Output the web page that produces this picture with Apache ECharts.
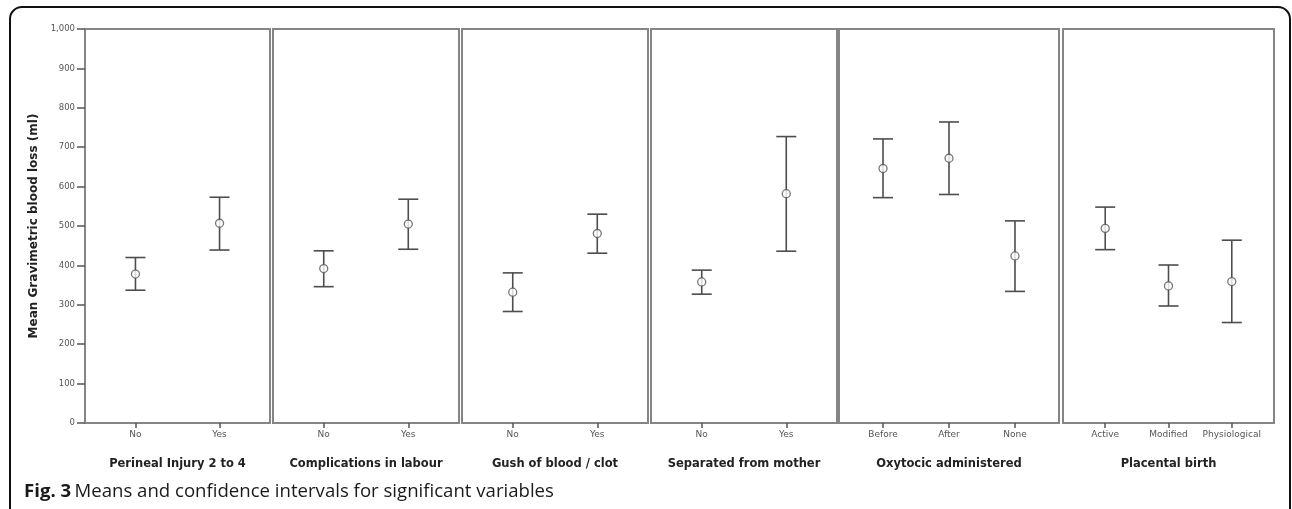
<!DOCTYPE html>
<html>
<head>
<meta charset="utf-8">
<script src="https://cdn.jsdelivr.net/npm/echarts@6/dist/echarts.min.js"></script>
<style>
  html, body { margin: 0; padding: 0; background: #fff; }
  #box1 { width: 1292px; height: 509px; }
</style>
</head>
<body>
<div id="box1"></div>
<script>
var myChart = echarts.init(document.getElementById('box1'))

// panel titles and categories
const panelTitles = ['Perineal Injury 2 to 4', 'Complications in labour', 'Gush of blood / clot',
    'Separated from mother', 'Oxytocic administered', 'Placental birth'];
const panelCats = [
    ['No', 'Yes'],
    ['No', 'Yes'],
    ['No', 'Yes'],
    ['No', 'Yes'],
    ['Before', 'After', 'None'],
    ['Active', 'Modified', 'Physiological']
];
// mean blood loss and 95% CI bounds (ml)
const means = [[378, 507], [392, 505], [332, 481], [358, 582], [646, 672, 424], [494, 348, 359]];
const lowers = [[337, 439], [346, 441], [283, 431], [327, 436], [572, 580, 334], [440, 297, 255]];
const uppers = [[420, 573], [437, 568], [381, 530], [388, 727], [721, 764, 513], [548, 401, 464]];

// panel boxes (left, width)
const boxes = [[85, 185], [273, 186], [462, 186], [651, 186], [839, 220], [1063, 211]];

let grid = [], xAxis = [], yAxis = [], series = [];
boxes.forEach(function (b, i) {
    let n = panelCats[i].length;
    let pad = n === 2 ? 0.6 : 0.667;
    grid.push({
        left: b[0], width: b[1], top: 29, bottom: 86,
        show: true, borderColor: '#858585', borderWidth: 2, backgroundColor: '#fff'
    });
    let idx = panelCats[i].map(function (c, k) { return k; });
    xAxis.push({
        type: 'value', gridIndex: i, min: -pad, max: n - 1 + pad,
        name: panelTitles[i], nameLocation: 'middle', nameGap: 35,
        nameTextStyle: { fontFamily: 'DejaVu Sans', fontWeight: 'bold', fontSize: 11.5, color: '#222' },
        axisLine: { show: false, onZero: false },
        splitLine: { show: false },
        axisTick: { show: true, inside: false, length: 5, customValues: idx, lineStyle: { color: '#555', width: 1.5 } },
        axisLabel: {
            customValues: idx, margin: 7, fontSize: 9, color: '#555', fontFamily: 'DejaVu Sans',
            formatter: function (v) { return panelCats[i][Math.round(v)]; }
        }
    });
    yAxis.push({
        type: 'value', gridIndex: i, min: 0, max: 1000, interval: 100,
        name: i === 0 ? 'Mean Gravimetric blood loss (ml)' : '',
        nameLocation: 'middle', nameGap: 45,
        nameTextStyle: { fontFamily: 'DejaVu Sans', fontWeight: 'bold', fontSize: 12, color: '#222' },
        axisLine: { show: false, onZero: false },
        splitLine: { show: false },
        axisTick: { show: i === 0, length: 8, lineStyle: { color: '#555', width: 1.5 } },
        axisLabel: {
            show: i === 0, margin: 10, fontSize: 8.5, color: '#555', fontFamily: 'DejaVu Sans',
            formatter: function (v) { return v.toLocaleString('en-US'); }
        }
    });
    let ciData = idx.map(function (k) { return [k, lowers[i][k], uppers[i][k]]; });
    series.push({
        type: 'custom', xAxisIndex: i, yAxisIndex: i, data: ciData,
        renderItem: function (params, api) {
            let lo = api.coord([api.value(0), api.value(1)]);
            let hi = api.coord([api.value(0), api.value(2)]);
            let hw = 10;
            let st = { stroke: '#4d4d4d', lineWidth: 1.6 };
            return {
                type: 'group',
                children: [
                    { type: 'line', shape: { x1: lo[0], y1: lo[1], x2: hi[0], y2: hi[1] }, style: st },
                    { type: 'line', shape: { x1: lo[0] - hw, y1: lo[1], x2: lo[0] + hw, y2: lo[1] }, style: st },
                    { type: 'line', shape: { x1: hi[0] - hw, y1: hi[1], x2: hi[0] + hw, y2: hi[1] }, style: st }
                ]
            };
        }
    });
    series.push({
        type: 'scatter', xAxisIndex: i, yAxisIndex: i, z: 5,
        symbol: 'circle', symbolSize: 8,
        itemStyle: { color: '#fff', borderColor: '#555', borderWidth: 1.3 },
        data: idx.map(function (k) { return [k, means[i][k]]; })
    });
});

option = {
    animation: false,
    backgroundColor: '#fff',
    grid: grid,
    xAxis: xAxis,
    yAxis: yAxis,
    series: series,
    graphic: [
        {
            type: 'rect', z: -1,
            shape: { x: 10, y: 7, width: 1280, height: 530, r: 12 },
            style: { fill: null, stroke: '#111', lineWidth: 2 }
        },
        {
            type: 'text', left: 24, top: 482,
            style: {
                rich: {
                    b: { fontFamily: 'Open Sans', fontWeight: 'bold', fontSize: 18.6, fill: '#1a1a1a' },
                    r: { fontFamily: 'Open Sans', fontSize: 18.6, fill: '#1a1a1a' }
                },
                text: '{b|Fig. 3} {r|Means and confidence intervals for significant variables}'
            }
        }
    ]
};
myChart.setOption(option);
</script>
</body>
</html>
